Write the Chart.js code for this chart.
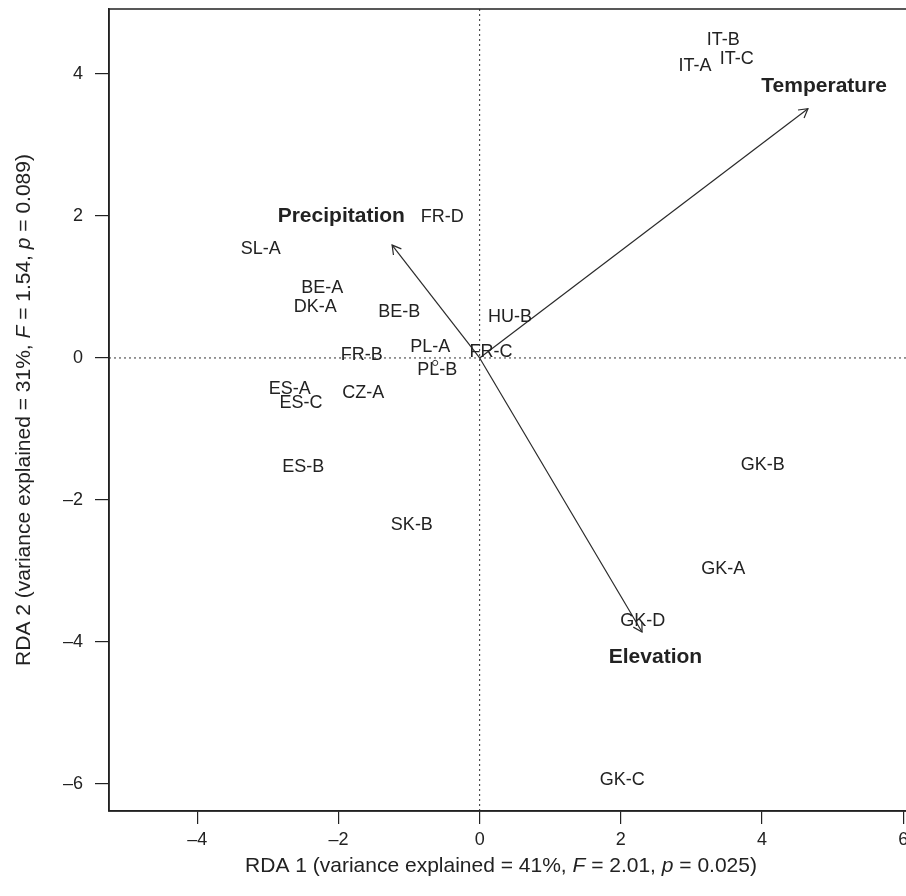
<!DOCTYPE html>
<html>
<head>
<meta charset="utf-8">
<script src="https://cdn.jsdelivr.net/npm/chart.js@4/dist/chart.umd.min.js"></script>
<style>
  html, body { margin: 0; padding: 0; background: #fff; overflow: hidden; }
  #wrap { width: 920px; height: 896px; }
</style>
</head>
<body>
<div id="wrap"><canvas id="rdaChart" width="920" height="896"></canvas></div>
<script>
// site scores (RDA 1, RDA 2)
const siteNames = ['IT-B', 'IT-C', 'IT-A', 'FR-D', 'SL-A', 'BE-A', 'DK-A', 'BE-B', 'HU-B', 'PL-A', 'FR-C',
                   'FR-B', 'PL-B', 'ES-A', 'ES-C', 'CZ-A', 'ES-B', 'SK-B', 'GK-B', 'GK-A', 'GK-D', 'GK-C'];
const siteX = [3.45, 3.64, 3.05, -0.53, -3.10, -2.23, -2.33, -1.14, 0.43, -0.70, 0.16,
               -1.67, -0.60, -2.69, -2.53, -1.65, -2.50, -0.96, 4.01, 3.45, 2.31, 2.02];
const siteY = [4.48, 4.21, 4.11, 1.99, 1.54, 0.99, 0.72, 0.65, 0.58, 0.15, 0.08,
               0.04, -0.17, -0.44, -0.63, -0.49, -1.54, -2.35, -1.51, -2.97, -3.70, -5.94];

// environmental vectors
const envNames = ['Temperature', 'Precipitation', 'Elevation'];
const envX = [4.65, -1.24, 2.30];
const envY = [3.51, 1.59, -3.86];
const envLabelX = [4.88, -1.96, 2.49];
const envLabelY = [3.83, 2.00, -4.21];

// the lone open symbol near PL-B
const markX = [-0.63];
const markY = [-0.07];

// axes
const xMin = -5.25, xMax = 6.124;
const yMin = -6.381, yMax = 4.915;
const xTicks = [-4, -2, 0, 2, 4, 6];
const yTicks = [-6, -4, -2, 0, 2, 4];

const xTitle = [['RDA 1 (variance explained = 41%, ', false], ['F', true], [' = 2.01, ', false], ['p', true], [' = 0.025)', false]];
const yTitle = [['RDA 2 (variance explained = 31%, ', false], ['F', true], [' = 1.54, ', false], ['p', true], [' = 0.089)', false]];

const ink = '#222';
const FONT = '"Liberation Sans", Arial, Helvetica, sans-serif';

function fmt(v) {
  return v < 0 ? '\u2013' + Math.abs(v) : String(v);
}

const datasets = [
  {
    type: 'line', data: [{x: 0, y: yMin}, {x: 0, y: yMax}],
    borderColor: '#333', borderWidth: 1, borderDash: [2, 3], pointRadius: 0
  },
  {
    type: 'line', data: [{x: xMin, y: 0}, {x: xMax, y: 0}],
    borderColor: '#333', borderWidth: 1, borderDash: [2, 3], pointRadius: 0
  }
];
envNames.forEach((n, i) => {
  datasets.push({
    type: 'line', label: n, data: [{x: 0, y: 0}, {x: envX[i], y: envY[i]}],
    borderColor: '#2a2a2a', borderWidth: 1.2, pointRadius: 0
  });
});
datasets.push({
  type: 'scatter', label: 'sites',
  data: siteNames.map((n, i) => ({x: siteX[i], y: siteY[i]})),
  pointRadius: 0
});
datasets.push({
  type: 'scatter', label: 'mark',
  data: markX.map((v, i) => ({x: v, y: markY[i]})),
  pointRadius: 2.6, pointStyle: 'circle', borderColor: '#333', borderWidth: 1,
  backgroundColor: 'rgba(0,0,0,0)'
});

function drawMixed(ctx, parts, size) {
  let total = 0;
  parts.forEach(p => {
    ctx.font = (p[1] ? 'italic ' : '') + size + 'px ' + FONT;
    total += ctx.measureText(p[0]).width;
  });
  let x = -total / 2;
  ctx.textAlign = 'left';
  ctx.textBaseline = 'middle';
  parts.forEach(p => {
    ctx.font = (p[1] ? 'italic ' : '') + size + 'px ' + FONT;
    ctx.fillText(p[0], x, 0);
    x += ctx.measureText(p[0]).width;
  });
}

const biplotPlugin = {
  id: 'biplot',
  afterDatasetsDraw(chart) {
    const ctx = chart.ctx;
    const xs = chart.scales.x, ys = chart.scales.y;
    const area = chart.chartArea;

    // arrow heads
    ctx.save();
    ctx.strokeStyle = '#2a2a2a';
    ctx.lineWidth = 1.2;
    envNames.forEach((n, i) => {
      const x0 = xs.getPixelForValue(0), y0 = ys.getPixelForValue(0);
      const x1 = xs.getPixelForValue(envX[i]), y1 = ys.getPixelForValue(envY[i]);
      const a = Math.atan2(y1 - y0, x1 - x0);
      const len = 10, spread = Math.PI / 6;
      ctx.beginPath();
      ctx.moveTo(x1 - len * Math.cos(a - spread), y1 - len * Math.sin(a - spread));
      ctx.lineTo(x1, y1);
      ctx.lineTo(x1 - len * Math.cos(a + spread), y1 - len * Math.sin(a + spread));
      ctx.stroke();
    });
    ctx.restore();

    // site labels
    ctx.save();
    ctx.fillStyle = ink;
    ctx.textAlign = 'center';
    ctx.textBaseline = 'middle';
    ctx.font = '18px ' + FONT;
    siteNames.forEach((n, i) => {
      ctx.fillText(n, xs.getPixelForValue(siteX[i]), ys.getPixelForValue(siteY[i]));
    });
    ctx.font = 'bold 21px ' + FONT;
    envNames.forEach((n, i) => {
      ctx.fillText(n, xs.getPixelForValue(envLabelX[i]), ys.getPixelForValue(envLabelY[i]));
    });
    ctx.restore();

    // frame
    ctx.save();
    ctx.strokeStyle = ink;
    ctx.lineWidth = 1.5;
    ctx.strokeRect(area.left, area.top, area.right - area.left, area.bottom - area.top);
    ctx.restore();

    // axis titles
    ctx.save();
    ctx.fillStyle = ink;
    ctx.translate(area.left + 392, 866);
    drawMixed(ctx, xTitle, 21);
    ctx.restore();

    ctx.save();
    ctx.fillStyle = ink;
    ctx.translate(24, (area.top + area.bottom) / 2);
    ctx.rotate(-Math.PI / 2);
    drawMixed(ctx, yTitle, 21);
    ctx.restore();
  }
};

const tickFont = { family: FONT, size: 18 };

new Chart(document.getElementById('rdaChart'), {
  type: 'scatter',
  data: { datasets: datasets },
  options: {
    responsive: false,
    animation: false,
    devicePixelRatio: 1,
    layout: { padding: { top: 9, left: 0, right: 8, bottom: 0 } },
    scales: {
      x: {
        type: 'linear', min: xMin, max: xMax,
        afterBuildTicks: s => { s.ticks = xTicks.map(v => ({value: v})); },
        afterFit: s => { s.height = 85; s.paddingLeft = 0; s.paddingRight = 0; },
        ticks: { callback: v => fmt(v), color: ink, font: tickFont, padding: 5, maxRotation: 0, autoSkip: false },
        grid: { drawOnChartArea: false, drawTicks: true, tickLength: 13, color: ink, lineWidth: 1.2 },
        border: { display: true, color: ink, width: 1.5 }
      },
      y: {
        type: 'linear', min: yMin, max: yMax,
        afterBuildTicks: s => { s.ticks = yTicks.map(v => ({value: v})); },
        afterFit: s => { s.width = 109; s.paddingTop = 0; s.paddingBottom = 0; },
        ticks: { callback: v => fmt(v), color: ink, font: tickFont, padding: 12, autoSkip: false },
        grid: { drawOnChartArea: false, drawTicks: true, tickLength: 14, color: ink, lineWidth: 1.2 },
        border: { display: true, color: ink, width: 1.5 }
      }
    },
    plugins: {
      legend: { display: false },
      tooltip: { enabled: false }
    }
  },
  plugins: [biplotPlugin]
});
</script>
</body>
</html>
